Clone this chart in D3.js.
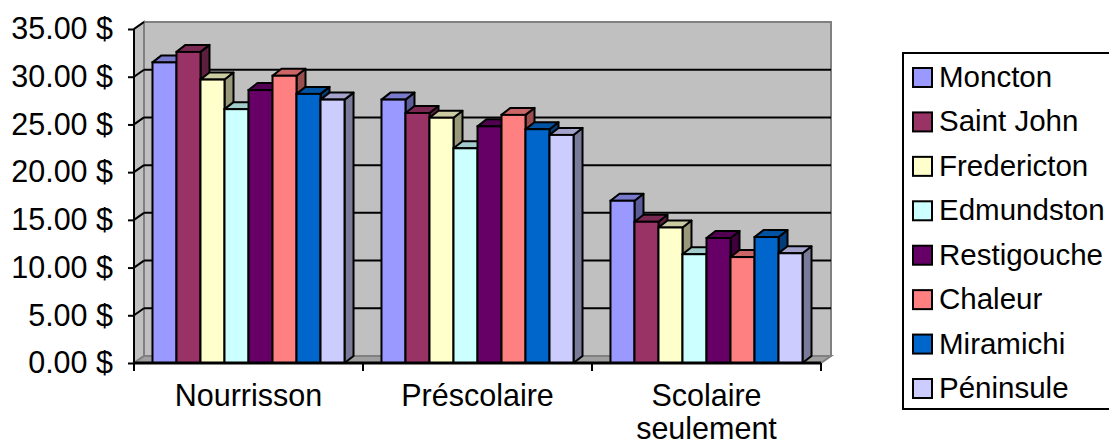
<!DOCTYPE html>
<html>
<head>
<meta charset="utf-8">
<script src="https://cdn.jsdelivr.net/npm/d3@7"></script>
<style>
  body { margin:0; background:#fff; overflow:hidden; }
  text { font-family: "Liberation Sans", Arial, sans-serif; fill:#000; }
</style>
</head>
<body>
<div class="canvas"></div>
<script>
// data
var categories = ["Nourrisson", "Préscolaire", "Scolaire seulement"];
var categoryLines = [["Nourrisson"], ["Préscolaire"], ["Scolaire", "seulement"]];
var regions = ["Moncton", "Saint John", "Fredericton", "Edmundston",
               "Restigouche", "Chaleur", "Miramichi", "Péninsule"];
var colors = ["#9999FF", "#993366", "#FFFFCC", "#CCFFFF",
              "#660066", "#FF8080", "#0066CC", "#CCCCFF"];
var nourrisson  = [31.5, 32.6, 29.7, 26.6, 28.6, 30.1, 28.2, 27.6];
var prescolaire = [27.6, 26.2, 25.7, 22.5, 24.8, 26.0, 24.5, 23.9];
var scolaire    = [17.0, 14.8, 14.2, 11.4, 13.1, 11.1, 13.2, 11.5];
var yTicks = [0, 5, 10, 15, 20, 25, 30, 35];

var values = [nourrisson, prescolaire, scolaire];

var W = 1109, H = 446;
var fontSize = 30.5;
var legendFont = 29.5;
// 3D offsets
var wdx = 10, wdy = 7;   // walls
var bdx = 9, bdy = 7;    // bars

var svg = d3.select('.canvas').append('svg')
    .attr('width', W).attr('height', H).style('display', 'block');

var x0 = d3.scaleBand().domain(categories).range([134, 821]).padding(0);
var x1 = d3.scaleBand().domain(regions).range([0, x0.bandwidth()])
    .paddingInner(0).paddingOuter(0.77);
var y = d3.scaleLinear().domain([0, 35]).range([363, 29]);

var left = x0.range()[0], right = x0.range()[1];
var y0 = y(0), yTop = y(35);

function shade(c, k) {
  var r = d3.rgb(c);
  return d3.rgb(r.r * k, r.g * k, r.b * k).toString();
}

// back wall
svg.append('rect')
  .attr('x', left + wdx).attr('y', yTop - wdy)
  .attr('width', right - left).attr('height', y0 - yTop)
  .attr('fill', '#C0C0C0').attr('stroke', '#808080').attr('stroke-width', 2);

// left side wall
svg.append('polygon')
  .attr('points', [[left, yTop], [left + wdx, yTop - wdy], [left + wdx, y0 - wdy], [left, y0]].join(' '))
  .attr('fill', '#C0C0C0').attr('stroke', '#808080').attr('stroke-width', 2);

// floor
svg.append('polygon')
  .attr('points', [[left, y0], [left + wdx, y0 - wdy], [right + wdx, y0 - wdy], [right, y0]].join(' '))
  .attr('fill', '#A0A0A0').attr('stroke', '#808080').attr('stroke-width', 2);

// gridlines on back wall + side wall
var grid = yTicks.filter(function(d){ return d > 0 && d < 35; });
svg.selectAll('.grid').data(grid).enter().append('line')
  .attr('class', 'grid')
  .attr('x1', left + wdx).attr('x2', right + wdx)
  .attr('y1', function(d){ return y(d) - wdy; })
  .attr('y2', function(d){ return y(d) - wdy; })
  .attr('stroke', '#000').attr('stroke-width', 2);
svg.selectAll('.sgrid').data(yTicks.filter(function(d){ return d > 0; })).enter().append('line')
  .attr('class', 'sgrid')
  .attr('x1', left).attr('x2', left + wdx)
  .attr('y1', function(d){ return y(d); })
  .attr('y2', function(d){ return y(d) - wdy; })
  .attr('stroke', '#000').attr('stroke-width', 2);

// bars
var groups = svg.selectAll('.group').data(categories).enter().append('g')
  .attr('class', 'group')
  .attr('transform', function(d){ return 'translate(' + x0(d) + ',0)'; });

groups.each(function(cat, ci) {
  var g = d3.select(this);
  var bw = x1.bandwidth();
  var bars = g.selectAll('.bar').data(regions.map(function(r, i){
      return {region: r, value: values[ci][i], color: colors[i]};
    })).enter().append('g').attr('class', 'bar');

  bars.append('polygon') // side
    .attr('points', function(d){
      var xa = x1(d.region) + bw, yv = y(d.value);
      return [[xa, yv], [xa + bdx, yv - bdy], [xa + bdx, y0 - bdy], [xa, y0]].join(' ');
    })
    .attr('fill', function(d){ return shade(d.color, 0.6); })
    .attr('stroke', '#000').attr('stroke-width', 2).attr('stroke-linejoin', 'round');

  bars.append('polygon') // top
    .attr('points', function(d){
      var xa = x1(d.region), yv = y(d.value);
      return [[xa, yv], [xa + bdx, yv - bdy], [xa + bw + bdx, yv - bdy], [xa + bw, yv]].join(' ');
    })
    .attr('fill', function(d){ return shade(d.color, 0.8); })
    .attr('stroke', '#000').attr('stroke-width', 2).attr('stroke-linejoin', 'round');

  bars.append('rect') // front
    .attr('x', function(d){ return x1(d.region); })
    .attr('y', function(d){ return y(d.value); })
    .attr('width', bw)
    .attr('height', function(d){ return y0 - y(d.value); })
    .attr('fill', function(d){ return d.color; })
    .attr('stroke', '#000').attr('stroke-width', 2);
});

// y axis
var yAxis = d3.axisLeft(y).tickValues(yTicks).tickSize(6).tickPadding(15)
  .tickFormat(function(d){ return d3.format('.2f')(d) + ' $'; });
var ya = svg.append('g').attr('transform', 'translate(' + left + ',0)').call(yAxis);
ya.select('.domain').attr('stroke', '#000').attr('stroke-width', 2).attr('d', 'M0,' + yTop + 'V' + y0);
ya.selectAll('.tick line').attr('stroke', '#000').attr('stroke-width', 2);
ya.selectAll('.tick text').style('font-size', fontSize + 'px').attr('fill', '#000')
  .style('font-family', '"Liberation Sans", Arial, sans-serif');

// x axis
var xa = svg.append('g').attr('transform', 'translate(0,' + y0 + ')');
xa.append('line').attr('x1', left).attr('x2', right).attr('y1', 0).attr('y2', 0)
  .attr('stroke', '#000').attr('stroke-width', 3);
var xTickPos = categories.map(function(c){ return x0(c); }).concat([right]);
xa.selectAll('.xt').data(xTickPos).enter().append('line')
  .attr('x1', function(d){ return d; }).attr('x2', function(d){ return d; })
  .attr('y1', 0).attr('y2', 8).attr('stroke', '#000').attr('stroke-width', 2);
xa.selectAll('.xl').data(categories).enter().append('text')
  .attr('text-anchor', 'middle')
  .attr('x', function(d){ return x0(d) + x0.bandwidth() / 2; })
  .attr('y', 43)
  .style('font-size', fontSize + 'px')
  .each(function(d, i){
    var t = d3.select(this);
    categoryLines[i].forEach(function(line, j){
      t.append('tspan').attr('x', x0(d) + x0.bandwidth() / 2)
        .attr('dy', j === 0 ? 0 : 33).text(line);
    });
  });

// legend (box runs past the right edge, as in the original)
var legend = svg.append('g').attr('transform', 'translate(903,53)');
legend.append('rect').attr('x', 0).attr('y', 0).attr('width', 320).attr('height', 356)
  .attr('fill', '#fff').attr('stroke', '#000').attr('stroke-width', 2);
var ly = d3.scalePoint().domain(regions).range([24, 335]);
var items = legend.selectAll('.li').data(regions).enter().append('g')
  .attr('transform', function(d){ return 'translate(0,' + ly(d) + ')'; });
items.append('rect').attr('x', 10).attr('y', -9).attr('width', 19).attr('height', 19)
  .attr('fill', function(d, i){ return colors[i]; })
  .attr('stroke', '#000').attr('stroke-width', 2);
items.append('text').attr('x', 36).attr('y', 10)
  .style('font-size', legendFont + 'px').text(function(d){ return d; });
</script>
</body>
</html>
